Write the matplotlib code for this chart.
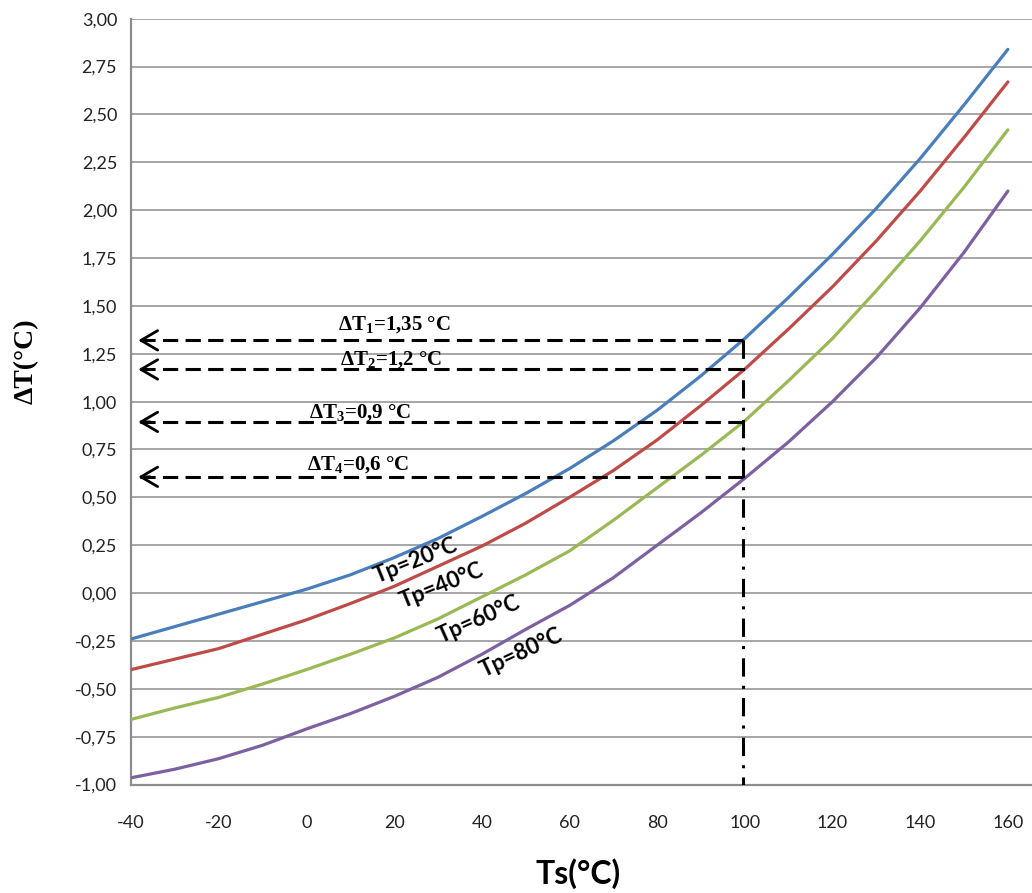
import matplotlib
matplotlib.use("Agg")
import matplotlib.pyplot as plt

# values
ts = [-40, -30, -20, -10, 0, 10, 20, 30, 40, 50, 60, 70, 80, 90, 100, 110, 120, 130, 140, 150, 160]
dt_tp20 = [-0.24, -0.175, -0.11, -0.045, 0.02, 0.095, 0.185, 0.285, 0.40, 0.52, 0.65,
           0.795, 0.955, 1.135, 1.33, 1.545, 1.77, 2.01, 2.27, 2.55, 2.84]
dt_tp40 = [-0.40, -0.345, -0.29, -0.215, -0.14, -0.055, 0.035, 0.14, 0.245, 0.365, 0.50,
           0.64, 0.80, 0.98, 1.17, 1.38, 1.60, 1.84, 2.10, 2.38, 2.67]
dt_tp60 = [-0.66, -0.60, -0.545, -0.475, -0.40, -0.32, -0.235, -0.135, -0.02, 0.095, 0.22,
           0.38, 0.55, 0.72, 0.90, 1.11, 1.33, 1.58, 1.84, 2.12, 2.42]
dt_tp80 = [-0.965, -0.92, -0.865, -0.795, -0.71, -0.63, -0.54, -0.44, -0.32, -0.19, -0.065,
           0.08, 0.25, 0.42, 0.60, 0.79, 1.00, 1.23, 1.49, 1.78, 2.10]

series_labels = ["Tp=20°C", "Tp=40°C", "Tp=60°C", "Tp=80°C"]
colors = ["#4a7ebb", "#be4b48", "#98b954", "#7d60a0"]
label_pos = [(25.0, 0.17, 22), (30.9, 0.04, 22), (39.4, -0.14, 24), (48.9, -0.31, 25)]

ts_mark = 99.6
dt_marks = [1.32, 1.168, 0.894, 0.607]
dt_texts = ["1,35", "1,2", "0,9", "0,6"]
dt_text_pos = [(20.0, 1.40), (19.3, 1.215), (12.2, 0.94), (11.8, 0.665)]

yticks = [-1 + 0.25 * i for i in range(17)]
xticks = list(range(-40, 161, 20))

plt.rcParams["mathtext.fontset"] = "custom"
plt.rcParams["mathtext.rm"] = "Liberation Serif:bold"
plt.rcParams["mathtext.bf"] = "Liberation Serif:bold"

fig = plt.figure(figsize=(10.32, 8.93), dpi=100)
ax = fig.add_axes([0.127, 0.1215, 0.873, 0.8575])

for y in yticks:
    ax.axhline(y, color="#a6a6a6", lw=1.4, zorder=1)

for vals, c in zip([dt_tp20, dt_tp40, dt_tp60, dt_tp80], colors):
    ax.plot(ts, vals, color=c, lw=2.3, zorder=3, solid_capstyle="round",
            solid_joinstyle="round")

for lab, (x, y, r) in zip(series_labels, label_pos):
    ax.text(x, y, lab, rotation=r, rotation_mode="anchor", ha="center", va="center",
            fontsize=16, family="Lato", fontweight="bold", color="black", zorder=5)

# dashed guide lines with arrow heads at the y axis
for i, (y, t, (tx, ty)) in enumerate(zip(dt_marks, dt_texts, dt_text_pos)):
    ax.plot([ts_mark, -38.8], [y, y], color="black", lw=2.2, ls=(0, (5, 2.4)), zorder=4)
    ax.annotate("", xy=(-39.0, y), xytext=(-35.0, y),
                arrowprops=dict(arrowstyle="->,head_length=0.6,head_width=0.35",
                                color="black", lw=2.0, mutation_scale=20), zorder=4)
    ax.text(tx, ty, "ΔT$_{%d}$=%s °C" % (i + 1, t), ha="center", va="center",
            fontsize=15, family="Liberation Serif", fontweight="bold", zorder=5)

ax.plot([ts_mark, ts_mark], [dt_marks[0], -1.0], color="black", lw=2.2,
        ls=(0, (6, 3, 1, 3)), zorder=4)

ax.set_xlim(-40, 165.5)
ax.set_ylim(-1.0, 3.0)
ax.set_yticks(yticks)
ax.set_yticklabels([("%.2f" % v).replace(".", ",") for v in yticks])
ax.set_xticks(xticks)
ax.set_xticklabels([str(v) for v in xticks])
ax.tick_params(axis="y", length=0, pad=10, labelsize=13)
ax.tick_params(axis="x", length=0, pad=22, labelsize=13)
for lab in ax.get_xticklabels() + ax.get_yticklabels():
    lab.set_family("Lato")
    lab.set_color("#222222")

for s in ["top", "right"]:
    ax.spines[s].set_visible(False)
for s in ["left", "bottom"]:
    ax.spines[s].set_color("#8c8c8c")
    ax.spines[s].set_linewidth(1.6)

fig.text(0.56, 0.022, "Ts(°C)", ha="center", va="center", fontsize=23,
         family="Lato", fontweight="bold")
fig.text(0.025, 0.595, "ΔT(°C)", ha="center", va="center", rotation=90,
         fontsize=20, family="Liberation Serif", fontweight="bold")

fig.savefig("out.png", dpi=100, facecolor="white")
